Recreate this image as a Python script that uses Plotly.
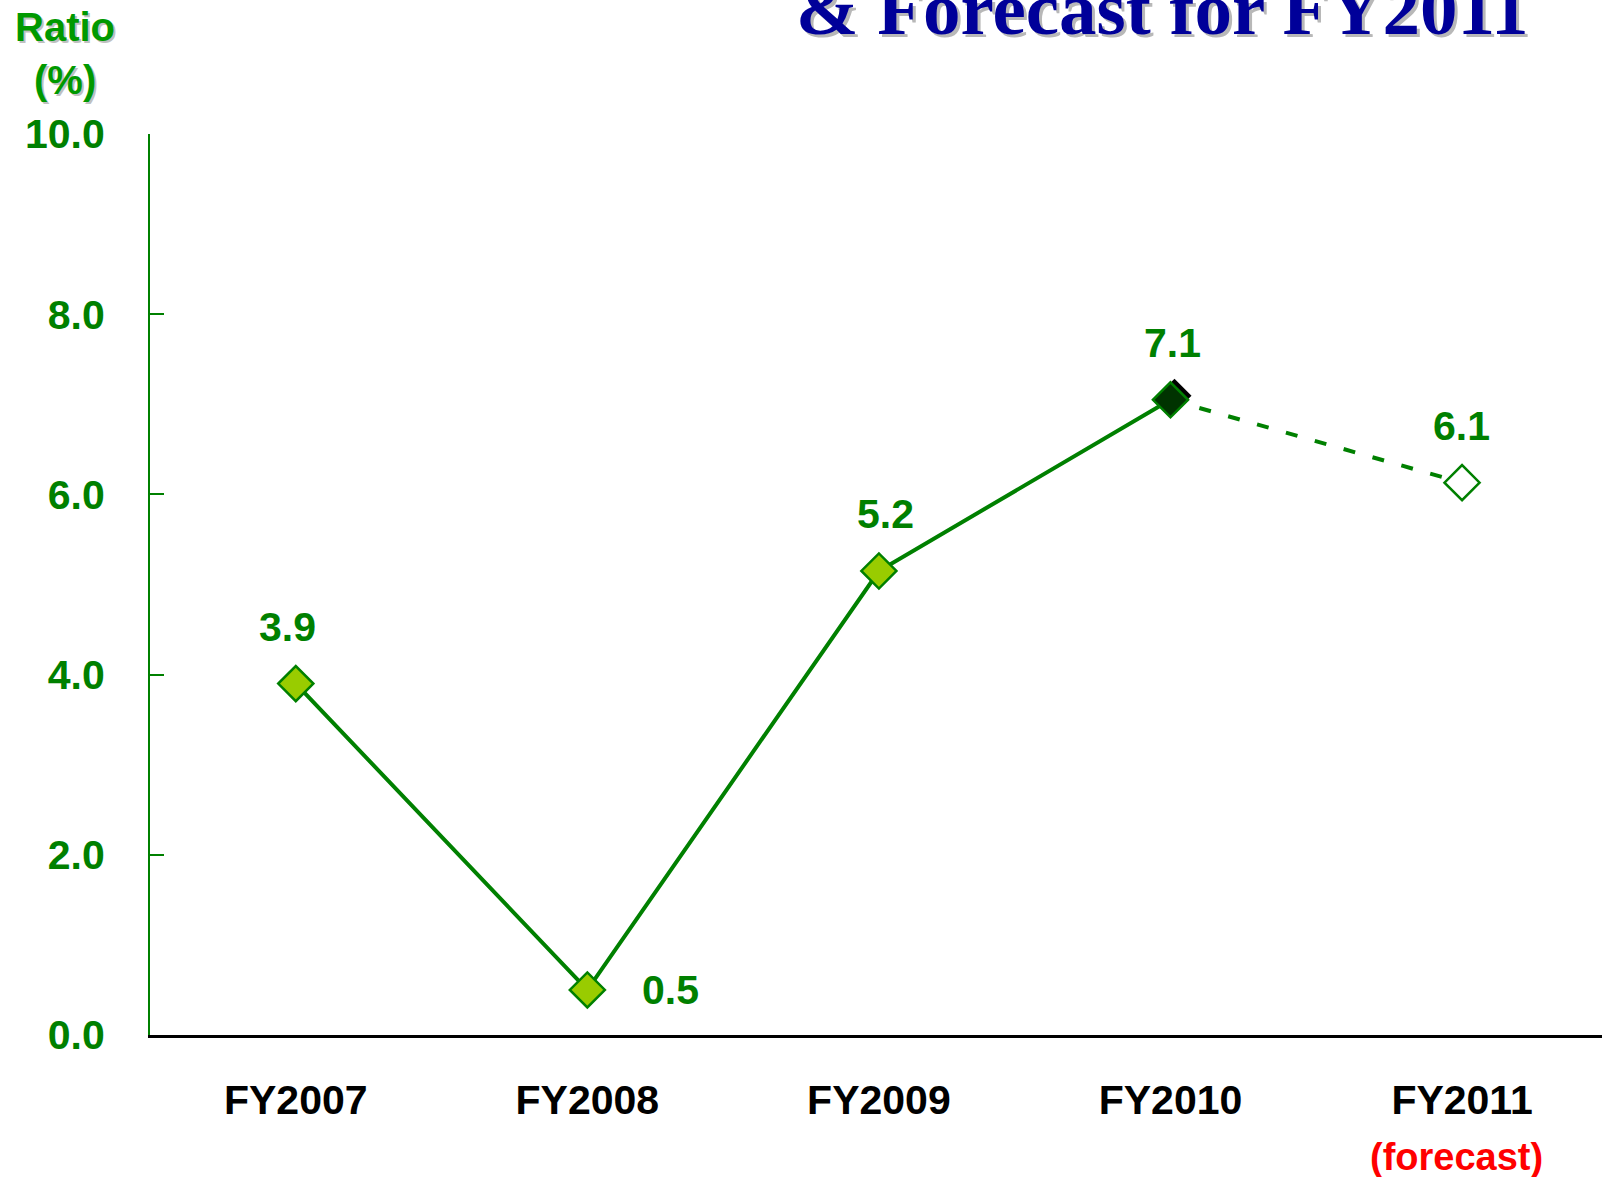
import plotly.graph_objects as go

# ---- data ----
categories = ["FY2007", "FY2008", "FY2009", "FY2010", "FY2011"]
ratio_values = [3.9, 0.5, 5.15, 7.05, 6.13]
value_labels = ["3.9", "0.5", "5.2", "7.1", "6.1"]
y_tick_values = [0, 2, 4, 6, 8, 10]
y_tick_labels = ["0.0", "2.0", "4.0", "6.0", "8.0", "10.0"]
title_text = "& Forecast for FY2011"
axis_title_lines = ["Ratio", "(%)"]
forecast_note = "(forecast)"

GREEN = "#008000"
LIGHT_GREEN = "#99CC00"
DARK_GREEN = "#003300"
FONT = "Liberation Sans"

fig = go.Figure()

# solid line for results
fig.add_trace(go.Scatter(
    x=categories[:4], y=ratio_values[:4], mode="lines",
    line=dict(color=GREEN, width=4), hoverinfo="skip", showlegend=False))
# dashed line to forecast
fig.add_trace(go.Scatter(
    x=categories[3:], y=ratio_values[3:], mode="lines",
    line=dict(color=GREEN, width=4, dash="12px,18px"), hoverinfo="skip", showlegend=False))

# shadow behind FY2010 marker
fig.add_shape(type="path", xref="x", yref="y", xsizemode="pixel", ysizemode="pixel",
              xanchor=categories[3], yanchor=ratio_values[3],
              path="M 4 -13 L 21 4 L 4 21 L -13 4 Z",
              fillcolor="black", line=dict(width=0), layer="below")

fill_colors = [LIGHT_GREEN, LIGHT_GREEN, LIGHT_GREEN, DARK_GREEN, "white"]
fig.add_trace(go.Scatter(
    x=categories, y=ratio_values, mode="markers",
    marker=dict(symbol="diamond", size=27, color=fill_colors,
                line=dict(color=GREEN, width=2.5)),
    hoverinfo="x+y", showlegend=False))

annotations = []
# data labels
for i, (c, v, t) in enumerate(zip(categories, ratio_values, value_labels)):
    if i == 1:
        xs, ys = 83, 0
    else:
        xs, ys = [-8, 0, 7, 2, -1][i], 57
    annotations.append(dict(x=c, y=v, xref="x", yref="y", text=t, showarrow=False,
                            xshift=xs, yshift=ys,
                            font=dict(family=FONT, size=41, color=GREEN, weight="bold")))

# title (cut at top), with shadow
for dx, dy, col in [(3, -3, "#B8B8B8"), (0, 0, "#000099")]:
    annotations.append(dict(x=0.697, y=1.091, xref="paper", yref="paper", xanchor="center",
                            yanchor="bottom", text=title_text, showarrow=False,
                            xshift=dx, yshift=dy,
                            font=dict(family="Liberation Serif", size=75, color=col, weight="bold")))

# y-axis title lines with shadow
for line_text, ypix in zip(axis_title_lines, [27.5, 80]):
    for dx, dy, col in [(2, -2, "#C0C0C0"), (0, 0, "#009900")]:
        annotations.append(dict(x=-0.0585, y=(1035 - ypix) / 901, xref="paper", yref="paper",
                                xanchor="center", yanchor="middle", text=line_text,
                                showarrow=False, xshift=dx, yshift=dy,
                                font=dict(family=FONT, size=40, color=col, weight="bold")))

# forecast note
annotations.append(dict(x=categories[4], y=-0.1354, xref="x", yref="paper", xanchor="center",
                        yanchor="middle", text=forecast_note, showarrow=False, xshift=-6,
                        font=dict(family=FONT, size=38, color="#FF0000", weight="bold")))

fig.update_layout(
    width=1602, height=1177,
    margin=dict(l=150, r=0, t=134, b=142),
    paper_bgcolor="white", plot_bgcolor="white",
    annotations=annotations,
    xaxis=dict(type="category", categoryorder="array", categoryarray=categories,
               range=[-0.5, 4.48], showgrid=False, zeroline=False,
               showline=True, linecolor="black", linewidth=3, ticks="",
               tickfont=dict(family=FONT, size=41, color="black", weight="bold"),
               ticklabelstandoff=27),
    yaxis=dict(range=[0, 10], tickvals=y_tick_values, ticktext=y_tick_labels,
               showgrid=False, zeroline=False, showline=True, linecolor=GREEN, linewidth=2,
               ticks="inside", ticklen=14, tickwidth=2, tickcolor=GREEN,
               tickfont=dict(family=FONT, size=41, color=GREEN, weight="bold"),
               ticklabelstandoff=35),
)

fig.write_html("out.html", config={"displayModeBar": False},
               post_script="document.body.style.margin='0';")
